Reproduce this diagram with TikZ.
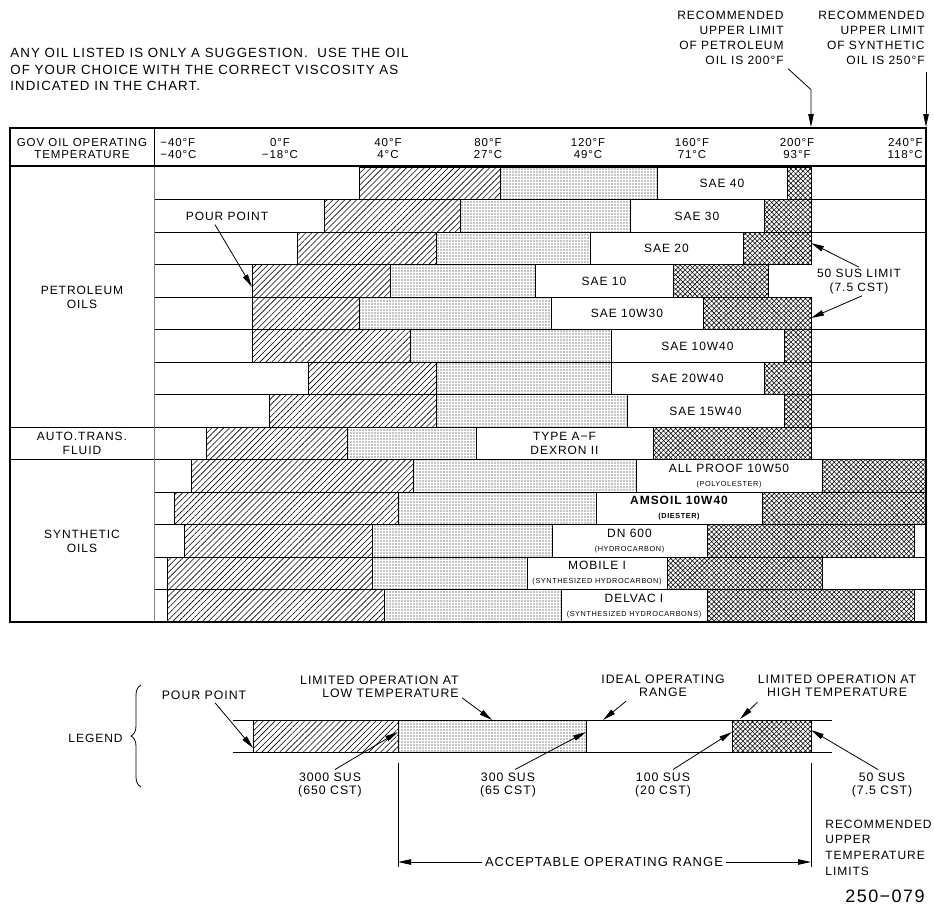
\documentclass[tikz,border=0pt]{standalone}
\usepackage{fontspec}
\setmainfont{Liberation Sans}[LetterSpace=8]
\usetikzlibrary{arrows.meta,patterns.meta,decorations.pathreplacing}
\newcommand\subf{\fontsize{7.3}{14}\selectfont}

\begin{document}
\begin{tikzpicture}[
  x=1pt, y=-1pt,
  line width=0.8pt,
  txt/.style={inner sep=0pt, align=center, font=\fontsize{12}{14}\selectfont},
  hdr/.style={txt, font=\fontsize{11.5}{12}\selectfont},
  lgd/.style={txt, font=\fontsize{12.3}{13}\selectfont},
  ar/.style={-{Triangle[length=13pt,width=5.5pt]}},
  hatchbar/.style={draw, pattern={Lines[angle=45,distance=4.2pt,line width=0.6pt]}},
  dotbar/.style={draw, pattern={Dots[distance=3pt,radius=0.6pt]}},
  crossbar/.style={draw, pattern={Hatch[angle=45,distance=3.4pt,line width=0.55pt]}},
]
  \useasboundingbox (0,0) rectangle (934,907);

  \node[txt, anchor=west, align=left, font=\fontsize{13.3}{16.5}\selectfont] (note) at (10,69.5)
    {ANY OIL LISTED IS ONLY A SUGGESTION.\ \ USE THE OIL\\OF YOUR CHOICE WITH THE CORRECT VISCOSITY AS\\INDICATED IN THE CHART.};

  \node[txt, anchor=east, align=right, font=\fontsize{12}{15}\selectfont] (recpet) at (784,37.5)
    {RECOMMENDED\\UPPER LIMIT\\OF PETROLEUM\\OIL IS 200°F};
  \node[txt, anchor=east, align=right, font=\fontsize{12}{15}\selectfont] (recsyn) at (925,37.5)
    {RECOMMENDED\\UPPER LIMIT\\OF SYNTHETIC\\OIL IS 250°F};
  \coordinate (petlimit) at (811,127);
  \coordinate (synlimit) at (926,127);
  \draw[ar] ([shift={(4pt,-4pt)}]recpet.south east) -- ++(23,21) -- (petlimit);
  \draw[ar] ([shift={(1pt,-7pt)}]recsyn.south east) -- (synlimit);

  \foreach \y in {199.5,232,329.5,362,394.5,492,524.5,557,589.5}
    \draw (154,\y) -- (926,\y);
  \foreach \y in {264.5,297}
    \draw (154,\y) -- (811,\y);
  \foreach \y in {427,459.5}
    \draw (10,\y) -- (926,\y);
  \draw (154,128) -- (154,166);
  \draw[gray] (154,166) -- (154,622);

  \foreach \yt/\a/\b/\c/\d/\e/\oil [count=\i] in {
    167/359/500/657/787/811/{SAE 40},
    199.5/324/460/630/764/811/{SAE 30},
    232/297/436/590/743/811/{SAE 20},
    264.5/252/390/535/673/768/{SAE 10},
    297/252/359/551/703/811/{SAE 10W30},
    329.5/252/410/611/784/811/{SAE 10W40},
    362/308/436/611/764/811/{SAE 20W40},
    394.5/269/436/627/784/811/{SAE 15W40},
    427/206/347/476/653/811/{TYPE A−F\\DEXRON II},
    459.5/191/413/636/822/926/{ALL PROOF 10W50\\\subf (POLYOLESTER)},
    492/174/398/596/762/926/{{\bfseries AMSOIL 10W40}\\\subf\bfseries (DIESTER)},
    524.5/184/372/552/707/914/{DN 600\\\subf (HYDROCARBON)},
    557/167/372/527/667/822/{MOBILE I\\\subf (SYNTHESIZED HYDROCARBON)},
    589.5/167/384/561/707/914/{DELVAC I\\\subf (SYNTHESIZED HYDROCARBONS)}} {
    \draw[hatchbar] (\a,\yt) rectangle (\b,\yt+32.5);
    \draw[dotbar] (\b,\yt) rectangle (\c,\yt+32.5);
    \draw (\c,\yt) rectangle (\d,\yt+32.5);
    \draw[crossbar] (\d,\yt) rectangle (\e,\yt+32.5);
    \node[txt] (oil\i) at ({(\c+\d)/2},{\yt+16.5}) {\oil};
  }

  \draw[line width=1.8pt] (10,166) -- (926,166);
  \draw[line width=1.8pt] (10,128) rectangle (926,622);

  \node[hdr] (gov) at (82,149) {GOV OIL OPERATING\\TEMPERATURE};
  \node[hdr, anchor=west, align=left] (tmin) at (160,149) {−40°F\\−40°C};
  \foreach \x/\f/\c [count=\i] in {280/0/−18, 388/40/4, 488/80/27, 588/120/49, 692/160/71}
    \node[hdr] (temp\i) at (\x,149) {\f°F\\\c°C};
  \node[hdr] (t200) at (797,149) {200°F\\93°F};
  \node[hdr, anchor=east, align=right] (tmax) at (923,149) {240°F\\118°C};

  \node[txt] (pet) at (82,297) {PETROLEUM\\OILS};
  \node[txt] (atf) at (82,443) {AUTO.TRANS.\\FLUID};
  \node[txt] (syn) at (82,541) {SYNTHETIC\\OILS};

  \node[txt] (pour) at (227,216) {POUR POINT};
  \coordinate (pourtip) at (252,287);
  \draw[ar] ([shift={(-12pt,-4pt)}]pour.south) -- (pourtip);

  \node[txt] (suslimit) at (859,282) {50 SUS LIMIT\\(7.5 CST)};
  \coordinate (sus20) at (811,243);
  \coordinate (sus10w30) at (811,318);
  \draw[ar] ([yshift=2pt]suslimit.north) -- (sus20);
  \draw[ar] ([shift={(3pt,-1pt)}]suslimit.south) -- (sus10w30);

  \node[txt, anchor=east] (legend) at (123,738) {LEGEND};
  \draw[decorate, decoration={brace, amplitude=10pt}] (141,787) -- (141,685);
  \draw (233,720) -- (832,720) (233,752) -- (832,752);
  \draw[hatchbar] (253,720) rectangle (398,752);
  \draw[dotbar] (398,720) rectangle (586,752);
  \draw[crossbar] (732,720) rectangle (811,752);

  \node[lgd] (lpour) at (204,695) {POUR POINT};
  \node[lgd, anchor=east, align=right] (llow) at (459,686.5) {LIMITED OPERATION AT\\LOW TEMPERATURE};
  \node[lgd] (lideal) at (663,686) {IDEAL OPERATING\\RANGE};
  \node[lgd] (lhigh) at (837,686) {LIMITED OPERATION AT\\HIGH TEMPERATURE};
  \node[lgd] (l3000) at (330,785) {3000 SUS\\(650 CST)};
  \node[lgd] (l300) at (508,785) {300 SUS\\(65 CST)};
  \node[lgd] (l100) at (663,785) {100 SUS\\(20 CST)};
  \node[lgd] (l50) at (882,785) {50 SUS\\(7.5 CST)};

  \coordinate (pourpt) at (253,748);
  \coordinate (lowpt) at (492,720);
  \coordinate (idealpt) at (603,720);
  \coordinate (highpt) at (740,719);
  \coordinate (visc3000) at (398,732);
  \coordinate (visc300) at (586,732);
  \coordinate (visc100) at (732,732);
  \coordinate (visc50) at (811,730);
  \draw[ar] ([shift={(11pt,-3pt)}]lpour.south) -- (pourpt);
  \draw[ar] ([xshift=3pt]llow.south east) -- (lowpt);
  \draw[ar] ([shift={(-37pt,-4pt)}]lideal.south) -- (idealpt);
  \draw[ar] ([yshift=-5pt]lhigh.south west) -- (highpt);
  \draw[ar] ([shift={(5pt,3pt)}]l3000.north) -- (visc3000);
  \draw[ar] ([shift={(7pt,3pt)}]l300.north) -- (visc300);
  \draw[ar] ([shift={(10pt,3pt)}]l100.north) -- (visc100);
  \draw[ar] ([shift={(-4pt,3pt)}]l50.north) -- (visc50);

  \coordinate (accl) at (398,862);
  \coordinate (accr) at (811,862);
  \draw (accl) ++(0,-99) -- ++(0,104);
  \draw (accr) ++(0,-99) -- ++(0,104);
  \node[txt, inner xsep=3pt, font=\fontsize{13}{14}\selectfont] (accept) at (604,862) {ACCEPTABLE OPERATING RANGE};
  \draw[ar] (accept.west) -- (accl);
  \draw[ar] (accept.east) -- (accr);

  \node[txt, anchor=west, align=left, font=\fontsize{12}{15.7}\selectfont] (lrec) at (825,847.5)
    {RECOMMENDED\\UPPER\\TEMPERATURE\\LIMITS};
  \node[txt, font=\fontsize{18}{18}\selectfont] (drawno) at (885,896) {250−079};
\end{tikzpicture}
\end{document}
